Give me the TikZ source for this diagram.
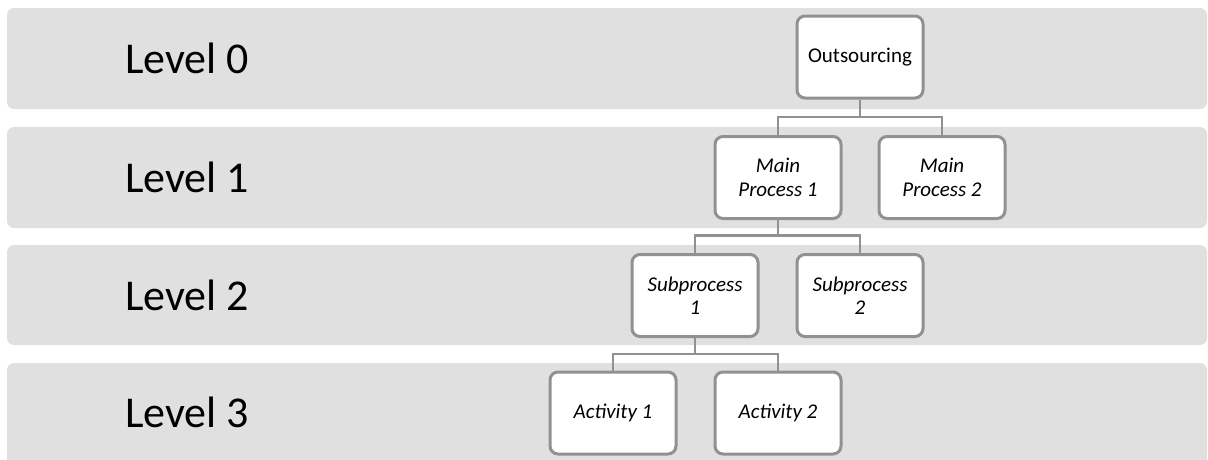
\documentclass[tikz,border=0pt]{standalone}
\usepackage{fontspec}
\setmainfont{Carlito}
\begin{document}
\begin{tikzpicture}[x=1pt,y=-1pt,
  band/.style={fill=bandgray, draw=none, rounded corners=7pt},
  levellabel/.style={anchor=west, inner sep=0pt, font=\fontsize{44}{50}\selectfont},
  stepbox/.style={draw=boxgray, line width=3pt, fill=white, rounded corners=8pt,
    minimum width=126pt, minimum height=82pt, inner sep=2pt, align=center,
    font=\fontsize{21}{23.5}\selectfont\itshape},
  topbox/.style={stepbox, font=\fontsize{21}{23.5}\selectfont},
  link/.style={draw=boxgray, line width=2.5pt}
]
\definecolor{bandgray}{RGB}{224,224,224}
\definecolor{boxgray}{RGB}{145,145,145}
\useasboundingbox (0,0) rectangle (1208,459);
\clip (0,0) rectangle (1208,459);

% level bands
\fill[band] (7,8) rectangle (1207,109);
\fill[band] (7,127) rectangle (1207,228);
\fill[band] (7,245) rectangle (1207,345);
\fill[band] (7,363) rectangle (1207,475);

\node[levellabel] (l0) at (125,58) {Level 0};
\node[levellabel] (l1) at (125,177) {Level 1};
\node[levellabel] (l2) at (125,295) {Level 2};
\node[levellabel] (l3) at (125,412) {Level 3};

% hierarchy boxes
\node[topbox]  (o)  at (860,57)    {Outsourcing};
\node[stepbox] (m1) at (778,177.5) {Main\\Process 1};
\node[stepbox] (m2) at (942,177.5) {Main\\Process 2};
\node[stepbox] (s1) at (695,295.5) {Subprocess\\1};
\node[stepbox] (s2) at (860,295.5) {Subprocess\\2};
\node[stepbox] (a1) at (613,413)   {Activity 1};
\node[stepbox] (a2) at (778,413)   {Activity 2};

% bus junctions between levels
\coordinate (j0) at (860,117);
\coordinate (j1) at (778,235.5);
\coordinate (j2) at (695,354);

% tree connectors
\draw[link] (o.south) -- (j0);
\draw[link] (j0) -| (m1.north);
\draw[link] (j0) -| (m2.north);
\draw[link] (m1.south) -- (j1);
\draw[link] (j1) -| (s1.north);
\draw[link] (j1) -| (s2.north);
\draw[link] (s1.south) -- (j2);
\draw[link] (j2) -| (a1.north);
\draw[link] (j2) -| (a2.north);
\end{tikzpicture}
\end{document}
